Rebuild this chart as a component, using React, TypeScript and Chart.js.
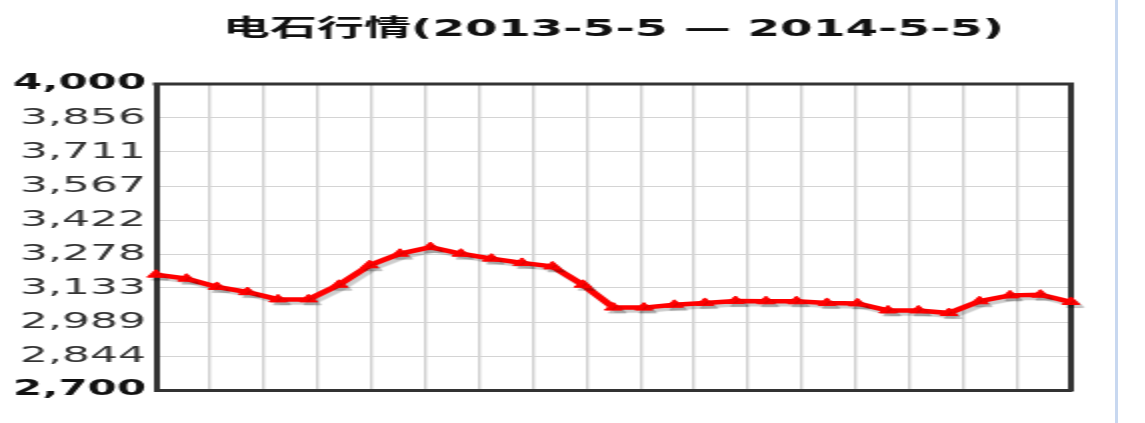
import { useEffect, useRef } from "react";
import { Chart, registerables } from "chart.js";

Chart.register(...registerables);

const TITLE = "电石行情(2013-5-5 — 2014-5-5)";
const CATEGORIES = [
  "1", "2", "3", "4", "5", "6", "7", "8", "9", "10",
  "11", "12", "13", "14", "15", "16", "17", "18", "19", "20",
  "21", "22", "23", "24", "25", "26", "27", "28", "29", "30", "31",
];
const PRICES = [
  3190, 3173, 3138, 3116, 3085, 3085, 3147, 3230, 3279, 3307,
  3279, 3258, 3240, 3225, 3147, 3050, 3050, 3062, 3070, 3078,
  3077, 3077, 3070, 3068, 3038, 3038, 3027, 3077, 3102, 3105, 3074,
];
const Y_MIN = 2700;
const Y_MAX = 4000;
const Y_TICK_LABELS = ["2,700", "2,844", "2,989", "3,133", "3,278", "3,422", "3,567", "3,711", "3,856", "4,000"];
const GRID_COLUMNS = 17;

const CANVAS_W = 572;
const CANVAS_H = 423;

export default function App() {
  const ref = useRef<HTMLCanvasElement | null>(null);

  useEffect(() => {
    const canvas = ref.current;
    if (!canvas) return;
    const nTicks = Y_TICK_LABELS.length;
    const tickValue = (i: number) => Y_MIN + (i * (Y_MAX - Y_MIN)) / (nTicks - 1);

    const titlePlugin = {
      id: "centerTitle",
      afterDraw(chart: any) {
        const { ctx, chartArea } = chart;
        ctx.save();
        ctx.font = "bold 23.5px 'DejaVu Sans', 'Noto Sans CJK SC', sans-serif";
        ctx.fillStyle = "#111";
        ctx.textAlign = "center";
        ctx.textBaseline = "middle";
        ctx.fillText(TITLE, (chartArea.left + chartArea.right) / 2, 30);
        ctx.restore();
      },
    };

    const framePlugin = {
      id: "frame",
      beforeDatasetsDraw(chart: any) {
        const { ctx, chartArea } = chart;
        ctx.save();
        ctx.strokeStyle = "#333";
        ctx.lineWidth = 3;
        ctx.lineCap = "square";
        ctx.beginPath();
        ctx.moveTo(chartArea.left, chartArea.top);
        ctx.lineTo(chartArea.right, chartArea.top);
        ctx.lineTo(chartArea.right, chartArea.bottom);
        ctx.stroke();
        ctx.restore();
      },
    };

    const shadowPlugin = {
      id: "lineShadow",
      beforeDatasetDraw(chart: any) {
        const ctx = chart.ctx;
        ctx.save();
        ctx.shadowColor = "rgba(0,0,0,0.2)";
        ctx.shadowOffsetX = 2;
        ctx.shadowOffsetY = 3;
        ctx.shadowBlur = 1;
      },
      afterDatasetDraw(chart: any) {
        chart.ctx.restore();
      },
    };

    const chart = new Chart(canvas, {
      type: "line",
      data: {
        labels: CATEGORIES,
        datasets: [
          {
            data: PRICES,
            xAxisID: "x",
            yAxisID: "y",
            borderColor: "#ff0000",
            backgroundColor: "#ff0000",
            borderWidth: 4.5,
            pointStyle: "triangle",
            pointRadius: 5,
            pointBorderWidth: 1,
            pointBorderColor: "#ff0000",
            pointBackgroundColor: "#ff0000",
            tension: 0,
            clip: false as any,
          },
        ],
      },
      options: {
        responsive: false,
        animation: false,
        devicePixelRatio: 1,
        layout: { padding: { top: 84, right: 36.5, left: 0, bottom: 0 } },
        plugins: {
          legend: { display: false },
          title: { display: false },
          tooltip: { enabled: false },
        },
        scales: {
          x: {
            type: "category",
            position: "bottom",
            grid: { display: false, drawTicks: false },
            ticks: { display: false },
            border: { display: true, color: "#333", width: 3 },
            afterFit: (s: any) => {
              s.height = 33;
            },
          },
          x2: {
            type: "linear",
            position: "bottom",
            min: 0,
            max: GRID_COLUMNS,
            ticks: { display: false, stepSize: 1 },
            grid: { color: "#cfcfcf", lineWidth: 1.4, drawTicks: false },
            border: { display: false },
            afterFit: (s: any) => {
              s.height = 0;
            },
          },
          y: {
            type: "linear",
            min: Y_MIN,
            max: Y_MAX,
            afterBuildTicks: (s: any) => {
              s.ticks = Y_TICK_LABELS.map((_, i) => ({ value: tickValue(i) }));
            },
            ticks: {
              padding: 5,
              callback: (_v: any, i: number) => Y_TICK_LABELS[i],
              color: (c: any) => (c.index === 0 || c.index === nTicks - 1 ? "#111" : "#333"),
              font: (c: any) =>
                c.index === 0 || c.index === nTicks - 1
                  ? { family: "'DejaVu Sans', sans-serif", size: 21, weight: "bold" }
                  : { family: "'DejaVu Sans', sans-serif", size: 22, weight: "normal" },
            },
            grid: { color: "#d4d4d4", lineWidth: 1, drawTicks: false },
            border: { display: true, color: "#333", width: 3 },
            afterFit: (s: any) => {
              s.width = 78;
            },
          },
        },
      } as any,
      plugins: [titlePlugin, framePlugin, shadowPlugin],
    });

    return () => chart.destroy();
  }, []);

  return (
    <div
      style={{
        position: "absolute",
        left: 0,
        top: 0,
        width: 1145,
        height: 423,
        overflow: "hidden",
        background: "#fff",
      }}
    >
      <canvas
        ref={ref}
        width={CANVAS_W}
        height={CANVAS_H}
        style={{ width: CANVAS_W * 2 + "px", height: CANVAS_H + "px", display: "block" }}
      />
      <div
        style={{
          position: "absolute",
          left: 1115,
          top: 0,
          width: 3,
          height: 423,
          background: "#c8d8f0",
        }}
      />
    </div>
  );
}
